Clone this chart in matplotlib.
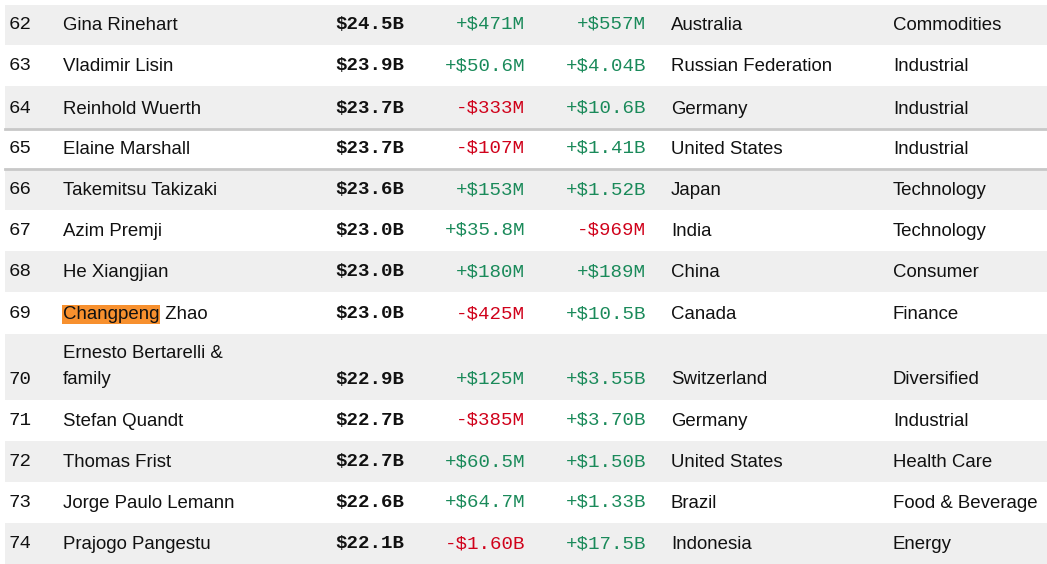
import matplotlib.pyplot as plt
from matplotlib.patches import Rectangle

ranks = [62, 63, 64, 65, 66, 67, 68, 69, 70, 71, 72, 73, 74]
names = ["Gina Rinehart", "Vladimir Lisin", "Reinhold Wuerth", "Elaine Marshall",
         "Takemitsu Takizaki", "Azim Premji", "He Xiangjian", "Changpeng Zhao",
         "Ernesto Bertarelli &\nfamily", "Stefan Quandt", "Thomas Frist",
         "Jorge Paulo Lemann", "Prajogo Pangestu"]
net_worth = ["$24.5B", "$23.9B", "$23.7B", "$23.7B", "$23.6B", "$23.0B", "$23.0B",
             "$23.0B", "$22.9B", "$22.7B", "$22.7B", "$22.6B", "$22.1B"]
last_change = ["+$471M", "+$50.6M", "-$333M", "-$107M", "+$153M", "+$35.8M", "+$180M",
               "-$425M", "+$125M", "-$385M", "+$60.5M", "+$64.7M", "-$1.60B"]
ytd_change = ["+$557M", "+$4.04B", "+$10.6B", "+$1.41B", "+$1.52B", "-$969M", "+$189M",
              "+$10.5B", "+$3.55B", "+$3.70B", "+$1.50B", "+$1.33B", "+$17.5B"]
countries = ["Australia", "Russian Federation", "Germany", "United States", "Japan",
             "India", "China", "Canada", "Switzerland", "Germany", "United States",
             "Brazil", "Indonesia"]
industries = ["Commodities", "Industrial", "Industrial", "Industrial", "Technology",
              "Technology", "Consumer", "Finance", "Diversified", "Industrial",
              "Health Care", "Food & Beverage", "Energy"]

row_edges = [5, 45, 86, 129, 169, 210, 251, 292, 334, 400, 441, 482, 523, 564]
GREEN, RED = "#1a8a5a", "#d0021b"
SANS = "Liberation Sans"
MONO = "Liberation Mono"
FS_SANS, FS_MONO = 13.4, 13.8

fig = plt.figure(figsize=(10.47, 5.64), dpi=100)
ax = fig.add_axes([0, 0, 1, 1])
ax.set_xlim(0, 1047)
ax.set_ylim(564, 0)
ax.axis("off")

for i in range(len(ranks)):
    top, bot = row_edges[i], row_edges[i + 1]
    if i % 2 == 0:
        ax.add_patch(Rectangle((5, top), 1042, bot - top, color="#efefef", lw=0))
    y = bot - 20.5 if i != 8 else bot - 21
    ys = y + 1
    ax.text(9, y, str(ranks[i]), family=MONO, fontsize=FS_MONO, va="center", color="#111")
    if names[i].startswith("Changpeng"):
        t = ax.text(63, ys, "Changpeng", family=SANS, fontsize=FS_SANS, va="center",
                    color="#111", bbox=dict(facecolor="#f7902e", edgecolor="none", pad=0.5))
        fig.canvas.draw()
        ext = t.get_window_extent().transformed(ax.transData.inverted())
        ax.text(ext.x1, ys, " Zhao", family=SANS, fontsize=FS_SANS, va="center", color="#111")
    elif "\n" in names[i]:
        first, second = names[i].split("\n")
        ax.text(63, ys - 26, first, family=SANS, fontsize=FS_SANS, va="center", color="#111")
        ax.text(63, ys, second, family=SANS, fontsize=FS_SANS, va="center", color="#111")
    else:
        ax.text(63, ys, names[i], family=SANS, fontsize=FS_SANS, va="center", color="#111")
    ax.text(404, y, net_worth[i], family=MONO, fontsize=FS_MONO, weight="bold",
            ha="right", va="center", color="#111")
    for x, val in ((525, last_change[i]), (646, ytd_change[i])):
        ax.text(x, y, val, family=MONO, fontsize=FS_MONO, ha="right", va="center",
                color=RED if val.startswith("-") else GREEN)
    ax.text(671, ys, countries[i], family=SANS, fontsize=FS_SANS, va="center", color="#111")
    ax.text(893, ys, industries[i], family=SANS, fontsize=FS_SANS, va="center", color="#111")

for yl in (129, 169):
    ax.plot([5, 1047], [yl, yl], color="#c8c8c8", lw=2)

fig.savefig("out.png", dpi=100)
